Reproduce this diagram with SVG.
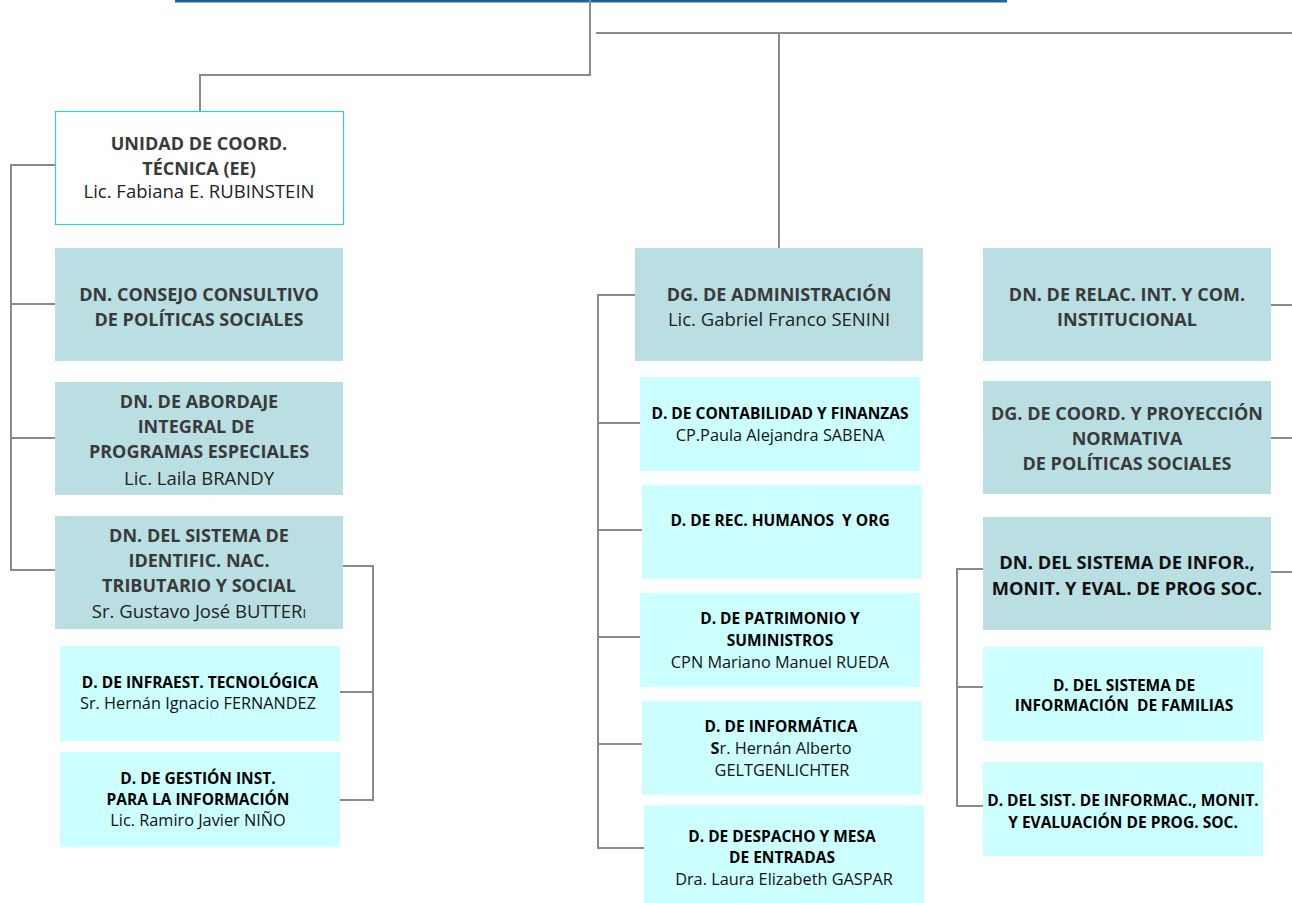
<svg xmlns="http://www.w3.org/2000/svg" width="1292" height="903" viewBox="0 0 1292 903">
<style>
.big{fill:#B9DFE2}
.small{fill:#CCFFFF}
.w{fill:#FFFFFF;stroke:#33CCEE;stroke-width:1.2}
text{font-family:"Open Sans","Liberation Sans",sans-serif;text-anchor:middle}
.t{font-size:18px;font-weight:bold;fill:#3A3A3A}
.n{font-size:18.5px;fill:#222}
.s{font-size:15.5px;font-weight:bold;fill:#000}
.sn{font-size:16.3px;fill:#111}
.c{fill:none;stroke:#8A8A8A;stroke-width:2}
</style>
<rect width="1292" height="903" fill="#fff"/>
<g id="connectors">
<line x1="175" y1="1" x2="1007" y2="1" stroke="#1F6593" stroke-width="3"/>
<polyline class="c" points="590,0 590,75 200,75 200,111"/>
<polyline class="c" points="596,33 1292,33"/>
<line class="c" x1="779" y1="33" x2="779" y2="248"/>
<polyline class="c" points="55,165 11,165 11,570 55,570"/>
<line class="c" x1="11" y1="304" x2="55" y2="304"/>
<line class="c" x1="11" y1="438" x2="55" y2="438"/>
<polyline class="c" points="343,566 373,566 373,800 340,800"/>
<line class="c" x1="340" y1="692" x2="373" y2="692"/>
<polyline class="c" points="635,295 598,295 598,848 644,848"/>
<line class="c" x1="598" y1="423" x2="640" y2="423"/>
<line class="c" x1="598" y1="530" x2="642" y2="530"/>
<line class="c" x1="598" y1="637" x2="640" y2="637"/>
<line class="c" x1="598" y1="744" x2="642" y2="744"/>
<line class="c" x1="1271" y1="305" x2="1292" y2="305"/>
<line class="c" x1="1271" y1="438" x2="1292" y2="438"/>
<line class="c" x1="1271" y1="572" x2="1292" y2="572"/>
<polyline class="c" points="983,569 957,569 957,806 983,806"/>
<line class="c" x1="957" y1="687" x2="983" y2="687"/>
</g>
<g id="unidad">
<rect class="w" x="55.5" y="111.5" width="288" height="113"/>
<text class="t" x="199" y="150">UNIDAD DE COORD.</text>
<text class="t" x="199" y="175">TÉCNICA (EE)</text>
<text class="n" x="199" y="198">Lic. Fabiana E. RUBINSTEIN</text>
</g>
<g id="consejo">
<rect class="big" x="55" y="248" width="288" height="113"/>
<text class="t" x="199" y="301">DN. CONSEJO CONSULTIVO</text>
<text class="t" x="199" y="326">DE POLÍTICAS SOCIALES</text>
</g>
<g id="abordaje">
<rect class="big" x="55" y="382" width="288" height="113"/>
<text class="t" x="199" y="408">DN. DE ABORDAJE</text>
<text class="t" x="196" y="433">INTEGRAL DE</text>
<text class="t" x="199" y="458">PROGRAMAS ESPECIALES</text>
<text class="n" x="199" y="485">Lic. Laila BRANDY</text>
</g>
<g id="identific">
<rect class="big" x="55" y="516" width="288" height="113"/>
<text class="t" x="199" y="542">DN. DEL SISTEMA DE</text>
<text class="t" x="199" y="567">IDENTIFIC. NAC.</text>
<text class="t" x="199" y="592">TRIBUTARIO Y SOCIAL</text>
<text class="n" x="199" y="618">Sr. Gustavo José BUTTER<tspan font-size="13">I</tspan></text>
</g>
<g id="infraest">
<rect class="small" x="60" y="646" width="280" height="95"/>
<text class="s" x="200" y="688">D. DE INFRAEST. TECNOLÓGICA</text>
<text class="sn" x="198" y="709">Sr. Hernán Ignacio FERNANDEZ</text>
</g>
<g id="gestion">
<rect class="small" x="60" y="752" width="280" height="95"/>
<text class="s" x="198" y="784">D. DE GESTIÓN INST.</text>
<text class="s" x="198" y="805">PARA LA INFORMACIÓN</text>
<text class="sn" x="198" y="826">Lic. Ramiro Javier NIÑO</text>
</g>
<g id="administracion">
<rect class="big" x="635" y="248" width="288" height="113"/>
<text class="t" x="779" y="301">DG. DE ADMINISTRACIÓN</text>
<text class="n" x="779" y="326">Lic. Gabriel Franco SENINI</text>
</g>
<g id="contabilidad">
<rect class="small" x="640" y="377" width="280" height="94"/>
<text class="s" x="780" y="419">D. DE CONTABILIDAD Y FINANZAS</text>
<text class="sn" x="780" y="441">CP.Paula Alejandra SABENA</text>
</g>
<g id="rrhh">
<rect class="small" x="642" y="485" width="280" height="94"/>
<text class="s" x="780" y="526" xml:space="preserve">D. DE REC. HUMANOS  Y ORG</text>
</g>
<g id="patrimonio">
<rect class="small" x="640" y="593" width="280" height="94"/>
<text class="s" x="780" y="624">D. DE PATRIMONIO Y</text>
<text class="s" x="780" y="646">SUMINISTROS</text>
<text class="sn" x="780" y="668">CPN Mariano Manuel RUEDA</text>
</g>
<g id="informatica">
<rect class="small" x="642" y="701" width="280" height="94"/>
<text class="s" x="781" y="732">D. DE INFORMÁTICA</text>
<text class="sn" x="781" y="754"><tspan font-weight="bold">S</tspan>r. Hernán Alberto</text>
<text class="sn" x="782" y="776">GELTGENLICHTER</text>
</g>
<g id="despacho">
<rect class="small" x="644" y="805" width="280" height="98"/>
<text class="s" x="782" y="842">D. DE DESPACHO Y MESA</text>
<text class="s" x="782" y="863">DE ENTRADAS</text>
<text class="sn" x="784" y="885">Dra. Laura Elizabeth GASPAR</text>
</g>
<g id="relac">
<rect class="big" x="983" y="248" width="288" height="113"/>
<text class="t" x="1127" y="301">DN. DE RELAC. INT. Y COM.</text>
<text class="t" x="1127" y="326">INSTITUCIONAL</text>
</g>
<g id="coord">
<rect class="big" x="983" y="381" width="288" height="113"/>
<text class="t" x="1127" y="420">DG. DE COORD. Y PROYECCIÓN</text>
<text class="t" x="1127" y="445">NORMATIVA</text>
<text class="t" x="1127" y="470">DE POLÍTICAS SOCIALES</text>
</g>
<g id="sistinfor">
<rect class="big" x="983" y="517" width="288" height="113"/>
<text class="t" x="1127" y="569" style="fill:#111;font-size:18.3px">DN. DEL SISTEMA DE INFOR.,</text>
<text class="t" x="1127" y="595" style="fill:#111;font-size:18.3px">MONIT. Y EVAL. DE PROG SOC.</text>
</g>
<g id="familias">
<rect class="small" x="983" y="647" width="280" height="94"/>
<text class="s" x="1124" y="691">D. DEL SISTEMA DE</text>
<text class="s" x="1124" y="711" xml:space="preserve">INFORMACIÓN  DE FAMILIAS</text>
</g>
<g id="monit">
<rect class="small" x="983" y="762" width="280" height="94"/>
<text class="s" x="1123" y="806">D. DEL SIST. DE INFORMAC., MONIT.</text>
<text class="s" x="1123" y="828">Y EVALUACIÓN DE PROG. SOC.</text>
</g>
</svg>
